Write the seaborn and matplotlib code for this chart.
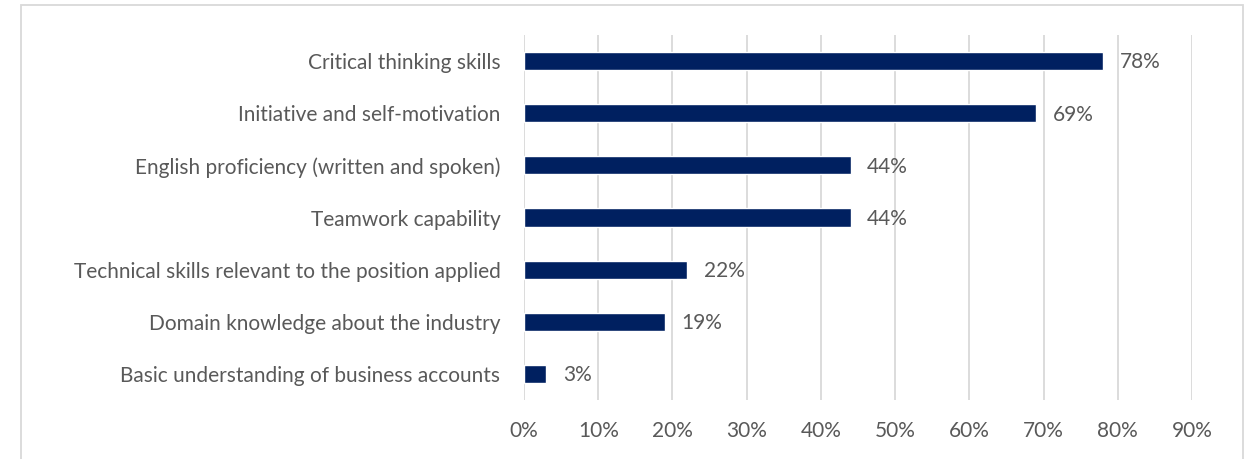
import matplotlib
matplotlib.use("Agg")
import matplotlib.pyplot as plt
import seaborn as sns
import pandas as pd
from matplotlib.patches import Rectangle
from matplotlib.ticker import PercentFormatter

skills = [
    "Critical thinking skills",
    "Initiative and self-motivation",
    "English proficiency (written and spoken)",
    "Teamwork capability",
    "Technical skills relevant to the position applied",
    "Domain knowledge about the industry",
    "Basic understanding of business accounts",
]
shares = [78, 69, 44, 44, 22, 19, 3]

df = pd.DataFrame({"skill": skills, "share": shares})

sns.set_theme(style="white")
plt.rcParams["font.family"] = ["Lato", "DejaVu Sans"]

text_color = "#595959"
bar_color = "#002060"
grid_color = "#d9d9d9"
fs = 15

fig = plt.figure(figsize=(12.46, 4.59), dpi=100)
ax = fig.add_axes([524 / 1246, 1 - 400 / 459, (1192 - 524) / 1246, (400 - 35) / 459])

sns.barplot(data=df, x="share", y="skill", color=bar_color, width=0.35,
            saturation=1, ax=ax, orient="h")

ax.set_xlim(0, 90)
ax.set_ylim(6.5, -0.5)
ax.set_xticks(range(0, 91, 10))
ax.xaxis.set_major_formatter(PercentFormatter(decimals=0))
ax.set_xlabel("")
ax.set_ylabel("")
ax.grid(axis="x", color=grid_color, linewidth=1.3)
ax.set_axisbelow(True)
for s in ax.spines.values():
    s.set_visible(False)
ax.tick_params(axis="y", length=0, pad=17, labelsize=fs, labelcolor=text_color)
ax.tick_params(axis="x", length=0, pad=15, labelsize=fs, labelcolor=text_color)

for i, v in enumerate(shares):
    ax.annotate(f"{v}%", xy=(v, i), xytext=(12, -1), textcoords="offset points",
                ha="left", va="center", fontsize=fs, color=text_color)

# outer frame around the chart area
fig.patches.append(Rectangle((21 / 1246, -0.05), (1243 - 21) / 1246, 1.05 - 5 / 459,
                             transform=fig.transFigure, fill=False,
                             edgecolor=grid_color, linewidth=1.3))

fig.savefig("out.png", dpi=100)
